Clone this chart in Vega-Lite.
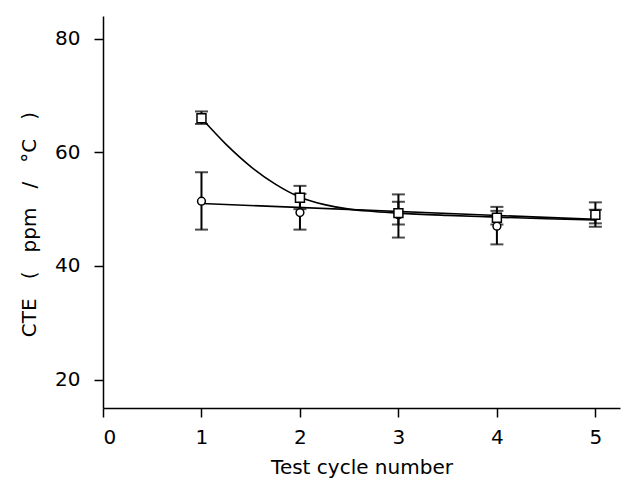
{
  "$schema": "https://vega.github.io/schema/vega-lite/v6.json",
  "width": 517,
  "height": 392,
  "autosize": {"type": "none"},
  "padding": {"left": 103, "top": 16, "right": 1, "bottom": 78},
  "background": "white",
  "config": {
    "view": {"stroke": null},
    "font": "DejaVu Sans",
    "axis": {
      "grid": false,
      "domainColor": "black",
      "domainWidth": 1.5,
      "tickColor": "black",
      "tickWidth": 1.5,
      "tickSize": 9,
      "labelFont": "DejaVu Sans",
      "labelFontSize": 20,
      "labelColor": "black",
      "titleFont": "DejaVu Sans",
      "titleFontSize": 20,
      "titleFontWeight": "normal",
      "titleColor": "black"
    }
  },
  "datasets": {
    "points": [
      {"series": "square", "cycle": 1, "cte": 66.0, "lo": 65.0, "hi": 67.2},
      {"series": "square", "cycle": 2, "cte": 52.0, "lo": 50.0, "hi": 54.1},
      {"series": "square", "cycle": 3, "cte": 49.3, "lo": 47.3, "hi": 51.3},
      {"series": "square", "cycle": 4, "cte": 48.5, "lo": 47.3, "hi": 49.7},
      {"series": "square", "cycle": 5, "cte": 49.0, "lo": 47.5, "hi": 49.9},
      {"series": "circle", "cycle": 1, "cte": 51.4, "lo": 46.4, "hi": 56.5},
      {"series": "circle", "cycle": 2, "cte": 49.4, "lo": 46.4, "hi": 52.7},
      {"series": "circle", "cycle": 3, "cte": 49.0, "lo": 45.0, "hi": 52.6},
      {"series": "circle", "cycle": 4, "cte": 47.0, "lo": 43.8, "hi": 50.4},
      {"series": "circle", "cycle": 5, "cte": 48.8, "lo": 46.9, "hi": 51.2}
    ],
    "fits": [
      {"fit": "square", "cycle": 1.0, "cte": 66.0},
      {"fit": "square", "cycle": 1.25, "cte": 61.4},
      {"fit": "square", "cycle": 1.5, "cte": 57.5},
      {"fit": "square", "cycle": 1.75, "cte": 54.4},
      {"fit": "square", "cycle": 2.0, "cte": 52.1},
      {"fit": "square", "cycle": 2.25, "cte": 50.8},
      {"fit": "square", "cycle": 2.5, "cte": 50.0},
      {"fit": "square", "cycle": 2.75, "cte": 49.6},
      {"fit": "square", "cycle": 3.0, "cte": 49.3},
      {"fit": "square", "cycle": 3.5, "cte": 48.9},
      {"fit": "square", "cycle": 4.0, "cte": 48.6},
      {"fit": "square", "cycle": 4.5, "cte": 48.3},
      {"fit": "square", "cycle": 5.0, "cte": 48.1},
      {"fit": "circle", "cycle": 1.0, "cte": 51.0},
      {"fit": "circle", "cycle": 5.0, "cte": 48.2}
    ]
  },
  "layer": [
    {
      "data": {"name": "fits"},
      "mark": {"type": "line", "interpolate": "monotone", "color": "black", "strokeWidth": 1.6},
      "encoding": {
        "x": {"field": "cycle", "type": "quantitative",
          "scale": {"domain": [0, 5.25], "nice": false, "zero": false},
          "axis": {"values": [0, 1, 2, 3, 4, 5], "format": "d", "title": "Test cycle number", "labelPadding": 10, "titlePadding": 10}},
        "y": {"field": "cte", "type": "quantitative",
          "scale": {"domain": [15, 84], "nice": false, "zero": false},
          "axis": {"values": [20, 40, 60, 80], "format": "d", "title": "CTE\u00a0\u00a0\u00a0(\u00a0\u00a0\u00a0ppm\u00a0\u00a0\u00a0/\u00a0\u00a0\u00a0°C\u00a0\u00a0\u00a0)", "labelPadding": 14, "titlePadding": 15, "titleY": 208}},
        "detail": {"field": "fit"}
      }
    },
    {
      "data": {"name": "points"},
      "mark": {"type": "rule", "color": "black", "strokeWidth": 2},
      "encoding": {
        "x": {"field": "cycle", "type": "quantitative"},
        "y": {"field": "lo", "type": "quantitative"},
        "y2": {"field": "hi"}
      }
    },
    {
      "data": {"name": "points"},
      "mark": {"type": "tick", "color": "black", "orient": "horizontal", "size": 13, "thickness": 2},
      "encoding": {
        "x": {"field": "cycle", "type": "quantitative"},
        "y": {"field": "lo", "type": "quantitative"}
      }
    },
    {
      "data": {"name": "points"},
      "mark": {"type": "tick", "color": "black", "orient": "horizontal", "size": 13, "thickness": 2},
      "encoding": {
        "x": {"field": "cycle", "type": "quantitative"},
        "y": {"field": "hi", "type": "quantitative"}
      }
    },
    {
      "data": {"name": "points"},
      "transform": [{"filter": "datum.series === 'circle'"}],
      "mark": {"type": "point", "shape": "circle", "filled": true, "fill": "white", "stroke": "black", "strokeWidth": 1.5, "size": 60, "opacity": 1},
      "encoding": {
        "x": {"field": "cycle", "type": "quantitative"},
        "y": {"field": "cte", "type": "quantitative"}
      }
    },
    {
      "data": {"name": "points"},
      "transform": [{"filter": "datum.series === 'square'"}],
      "mark": {"type": "point", "shape": "square", "filled": true, "fill": "white", "stroke": "black", "strokeWidth": 1.5, "size": 80, "opacity": 1},
      "encoding": {
        "x": {"field": "cycle", "type": "quantitative"},
        "y": {"field": "cte", "type": "quantitative"}
      }
    }
  ]
}
